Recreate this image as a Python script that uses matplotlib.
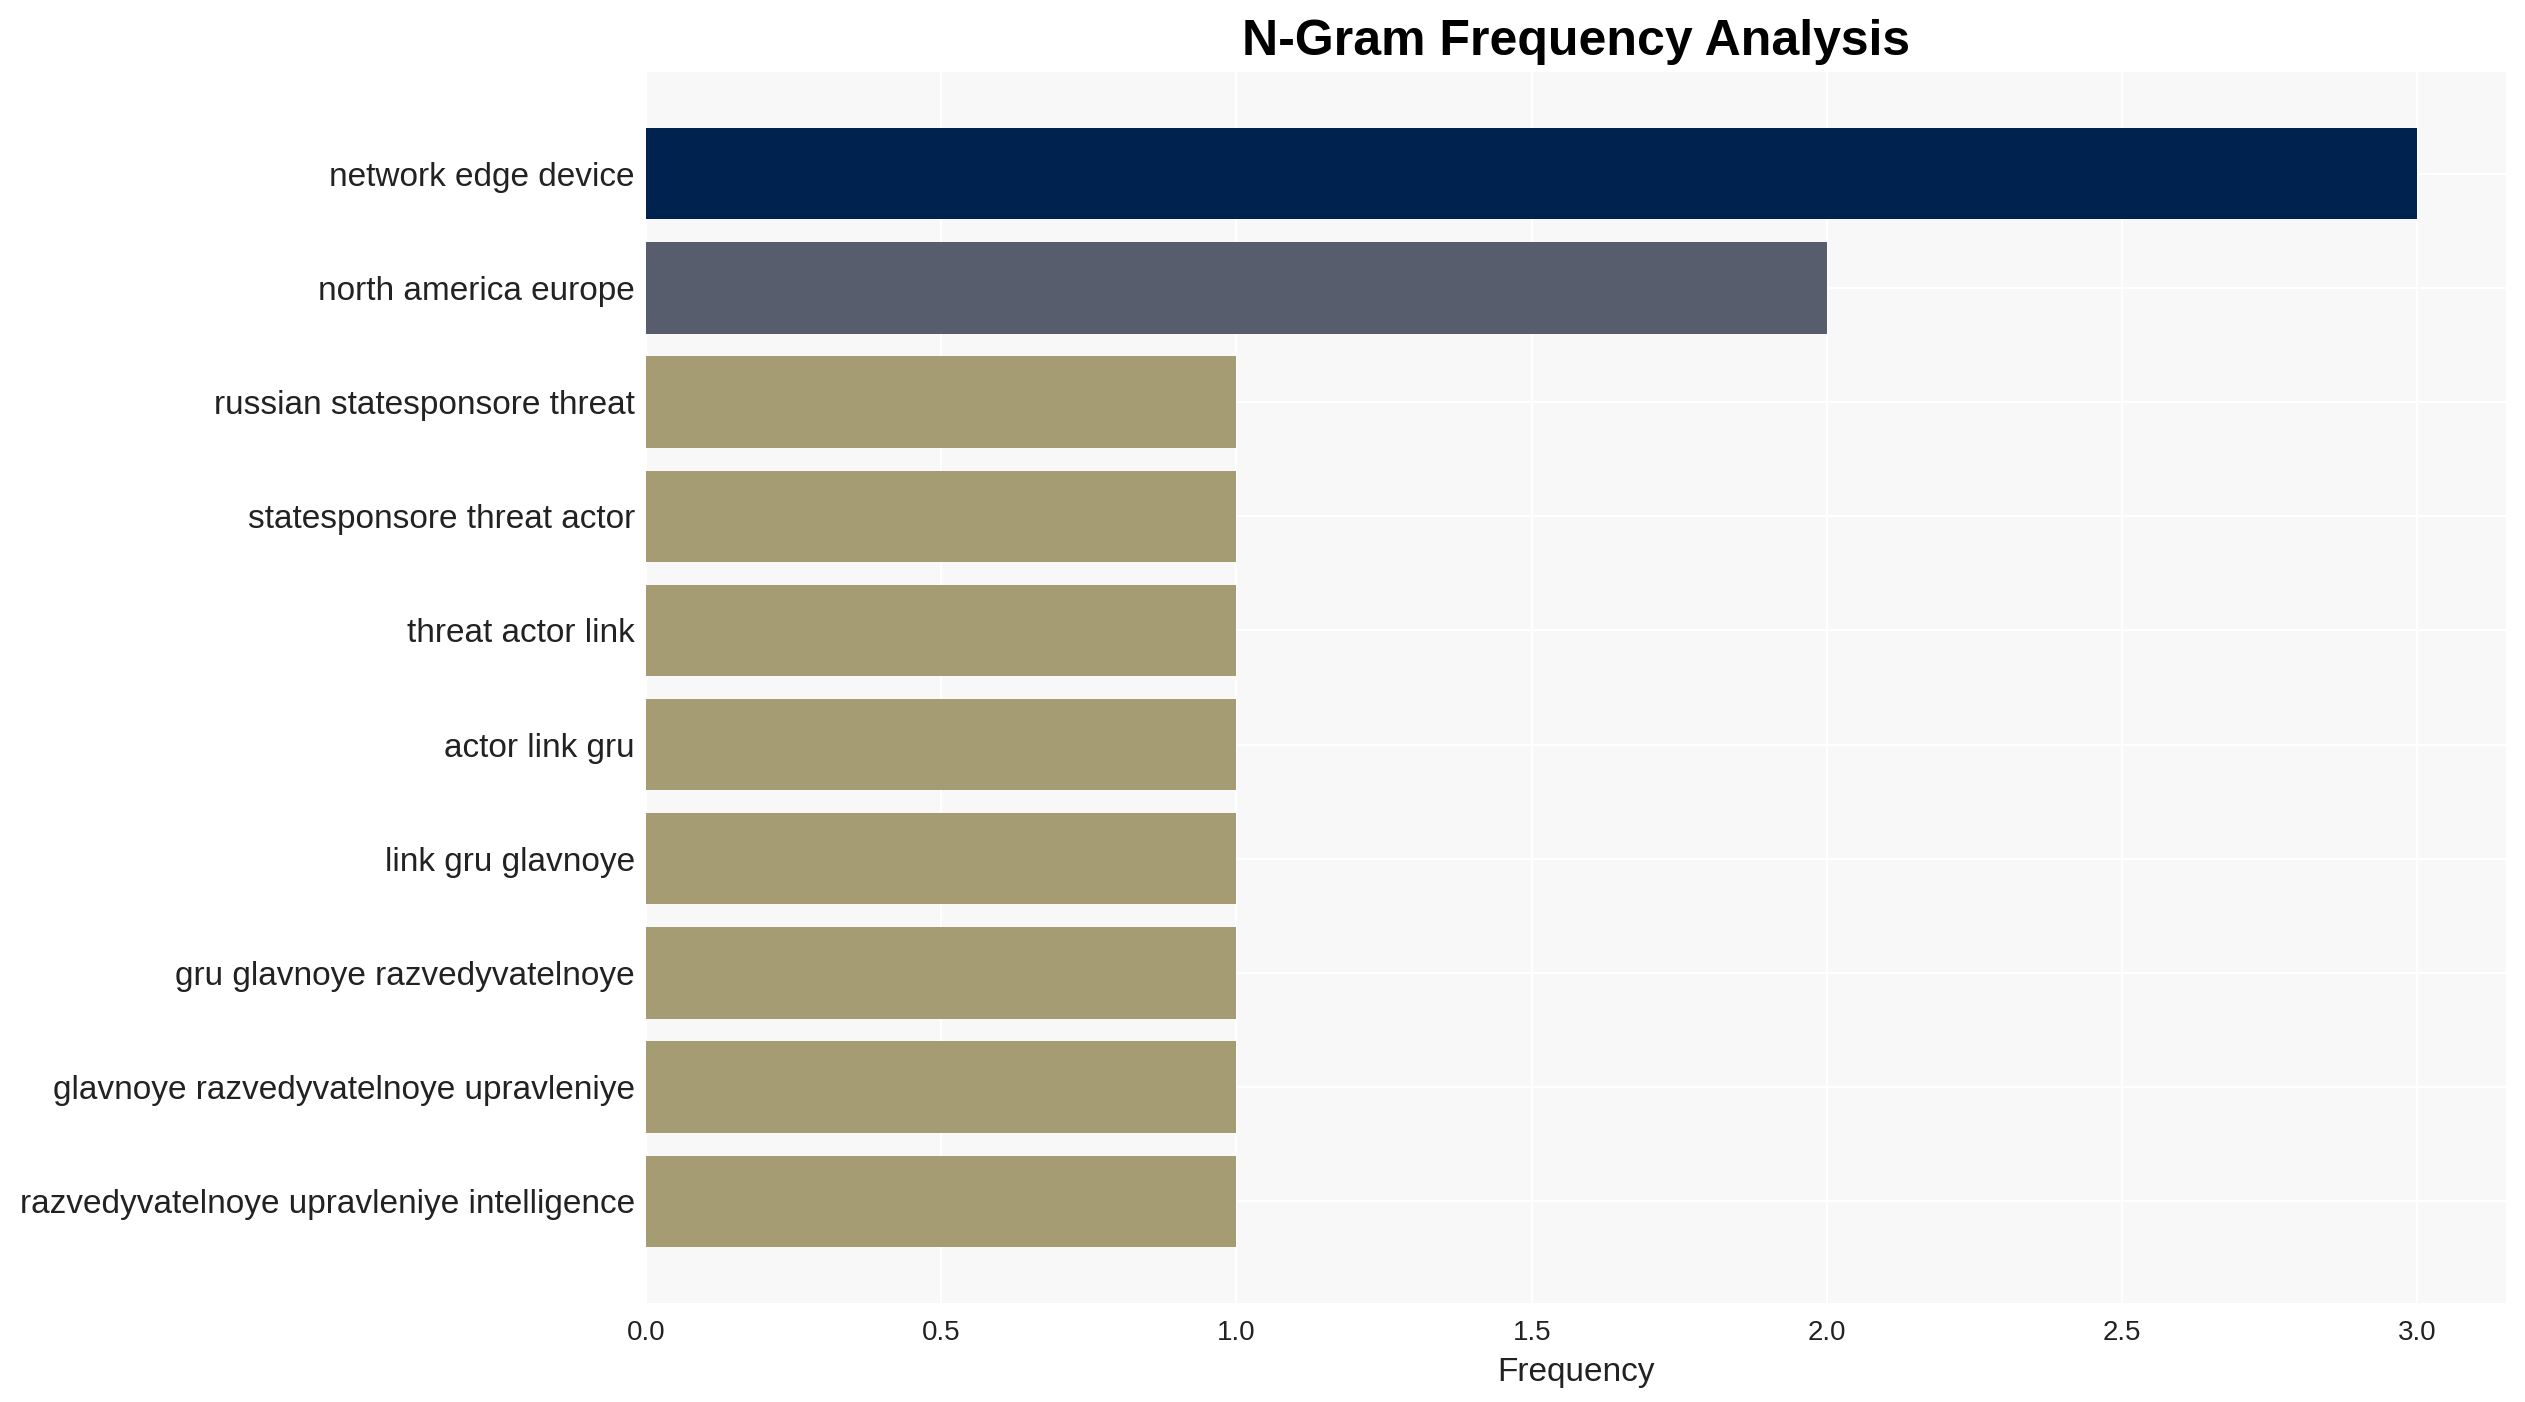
import matplotlib.pyplot as plt

plt.rcParams['font.family'] = ['Liberation Sans', 'DejaVu Sans']

# n-gram counts, top to bottom
ngrams = [
    "network edge device",
    "north america europe",
    "russian statesponsore threat",
    "statesponsore threat actor",
    "threat actor link",
    "actor link gru",
    "link gru glavnoye",
    "gru glavnoye razvedyvatelnoye",
    "glavnoye razvedyvatelnoye upravleniye",
    "razvedyvatelnoye upravleniye intelligence",
]
counts = [3, 2, 1, 1, 1, 1, 1, 1, 1, 1]
bar_colors = ["#00224e", "#575d6d"] + ["#a59c74"] * 8

W, H, DPI = 2525, 1402, 200
fig = plt.figure(figsize=(W / DPI, H / DPI), dpi=DPI, facecolor='white')
ax = fig.add_axes([646 / W, 1 - 1303 / H, (2506 - 646) / W, (1303 - 72) / H])
ax.set_facecolor('#f8f8f8')

ax.barh(ngrams, counts, color=bar_colors, height=0.8, zorder=2)
ax.invert_yaxis()

ax.grid(True, color='white', linewidth=0.8, zorder=1)
ax.set_axisbelow(True)
for s in ax.spines.values():
    s.set_visible(False)
ax.tick_params(axis='both', length=0, colors='#222222')
ax.tick_params(axis='y', labelsize=12, pad=4)
ax.tick_params(axis='x', labelsize=10, pad=6)

ax.set_xlabel("Frequency", fontsize=12, color='#222222', labelpad=4)
ax.set_title("N-Gram Frequency Analysis", fontsize=18, fontweight='bold', pad=6)

fig.savefig("out.png", dpi=DPI, facecolor='white')
